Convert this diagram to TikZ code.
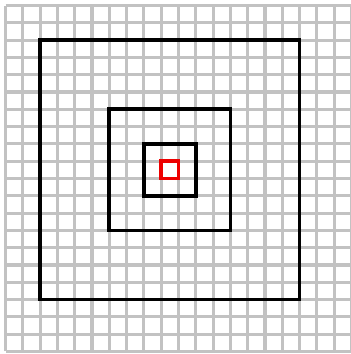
\documentclass[tikz,border=0pt]{standalone}
\usepackage{tikz}
\definecolor{gridcol}{rgb}{0.76, 0.76, 0.76}
\definecolor{focuscol}{rgb}{0.93, 0.00, 0.00}
\tikzset{
  cellgrid/.style={draw=gridcol, line width=2.5pt, step=0.5cm},
  frame/.style={draw=black, line width=3.1pt},
  focus/.style={draw=focuscol, line width=2.9pt},
}

\begin{document}
\begin{tikzpicture}[x=0.5cm, y=0.5cm]
    \useasboundingbox (-0.318,-0.145) rectangle (19.97,20.318);

    % background grid
    \draw[cellgrid] (0,0) grid (20,20);

    % nested windows
    \draw[frame] (2,3) rectangle (17,18);
    \draw[frame] (6,7) rectangle (13,14);
    \draw[frame] (8,9) rectangle (11,12);
    \draw[focus] (9,10) rectangle (10,11);
\end{tikzpicture}
\end{document}
